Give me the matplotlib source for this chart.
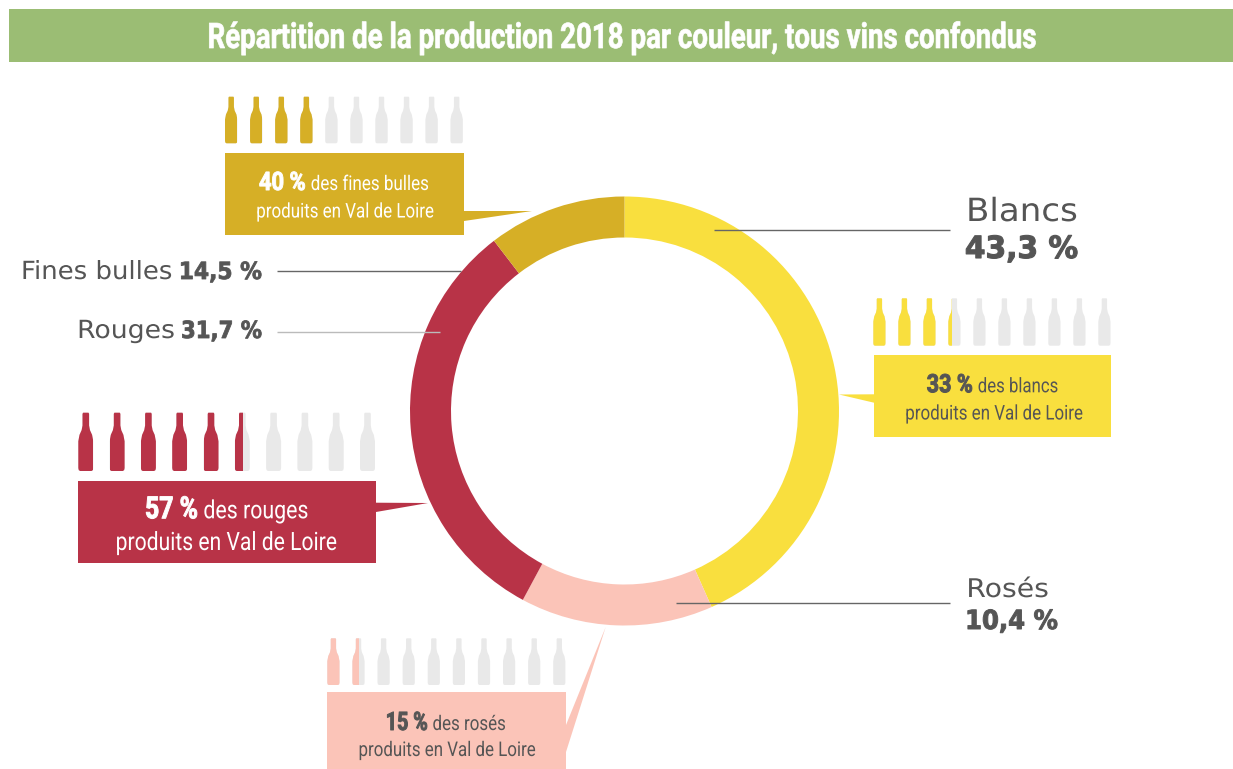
import matplotlib
matplotlib.use("Agg")
import matplotlib.pyplot as plt
from matplotlib.patches import Polygon, Rectangle
from matplotlib.patheffects import AbstractPathEffect
from matplotlib.transforms import Affine2D

# --- data -------------------------------------------------------------
title = "Répartition de la production 2018 par couleur, tous vins confondus"
categories = ["Blancs", "Rosés", "Rouges", "Fines bulles"]
# arc sizes as drawn in the ring (printed labels differ for two of them)
ring_values = [43.3, 14.5, 31.7, 10.4]
printed_values = ["43,3 %", "10,4 %", "31,7 %", "14,5 %"]
val_de_loire_pct = [33, 15, 57, 40]
bottles_filled = [3.3, 1.55, 5.55, 4.0]
callout_words = ["des blancs", "des rosés", "des rouges", "des fines bulles"]
second_line = "produits en Val de Loire"

# --- styles -----------------------------------------------------------
colors = ["#F9DF3E", "#FBC4B8", "#B83347", "#D6AF26"]
text_on = ["#555555", "#555555", "#FFFFFF", "#FFFFFF"]
GREY = "#E9E9E9"
TXT = "#555555"
NARROW = "Roboto"
WIDE = "DejaVu Sans"

W, H = 1233, 769
fig = plt.figure(figsize=(W / 100, H / 100), dpi=100, facecolor="white")
ax = fig.add_axes([0, 0, 1, 1])

CX, CY, R, RIN = 624.5, 411, 214.5, 173.5
ax.pie(ring_values, colors=colors, center=(CX, CY), radius=R, startangle=-90,
       counterclock=True, wedgeprops=dict(width=R - RIN, linewidth=0))
ax.set_xlim(0, W)
ax.set_ylim(H, 0)
ax.set_aspect("equal")
ax.axis("off")

renderer = fig.canvas.get_renderer()


class Stretch(AbstractPathEffect):
    """Stretch the glyph outlines vertically from the baseline, optionally thickening."""

    def __init__(self, sy, stroke=0.0):
        super().__init__()
        self.sy, self.stroke = sy, stroke

    def draw_path(self, renderer, gc, tpath, affine, rgbFace=None):
        t = Affine2D().scale(1, self.sy) + affine
        gc0 = renderer.new_gc()
        gc0.copy_properties(gc)
        if self.stroke:
            gc0.set_linewidth(self.stroke)
            gc0.set_foreground(rgbFace)
        renderer.draw_path(gc0, tpath, t, rgbFace)
        gc0.restore()


def fit(left, y, s, width, fontsize, stroke=0.0, **kw):
    """Real text spanning `width` pixels from `left`, with the height of `fontsize`."""
    a = ax.text(left + width / 2, y, s, ha="center", va="baseline", fontsize=fontsize, **kw)
    sx = width / a.get_window_extent(renderer).width
    a.set_fontsize(fontsize * sx)
    a.set_path_effects([Stretch(1 / sx, stroke)])
    return a


# header
ax.add_patch(Rectangle((9, 9), 1224, 53, color="#9BBD74", lw=0))
fit(207, 48, title, 828, 25.3, stroke=0.5, family=NARROW, weight="bold", color="white")


def bottle(x, y, w, h, color, clip_w=None):
    n0, n1 = 0.28, 0.72
    pts = [(n0, 0.02), (n0 + .04, 0), (n1 - .04, 0), (n1, 0.02), (n1, 0.22), (0.78, 0.30),
           (0.92, 0.38), (1, 0.49), (1, 0.95), (0.97, 0.985), (0.88, 1), (0.12, 1), (0.03, 0.985), (0, 0.95),
           (0, 0.49), (0.08, 0.38), (0.22, 0.30), (n0, 0.22)]
    p = Polygon([(x + a * w, y + b * h) for a, b in pts], closed=True, color=color, lw=0)
    ax.add_patch(p)
    if clip_w is not None:
        p.set_clip_path(Rectangle((x, y - 1), clip_w, h + 2, transform=ax.transData))


def bottles(filled, x0, y0, w, h, step, color):
    for i in range(10):
        x = x0 + i * step
        bottle(x, y0, w, h, GREY)
        frac = min(max(filled - i, 0), 1)
        if frac > 0:
            bottle(x, y0, w, h, color, clip_w=frac * w)


# callout layout: big = (left, width), end = right end of first line
layout = [
    dict(box=(874, 355, 1111, 437), tail=[(874, 394.3), (874, 402.7), (839, 394.5)],
         bot=(873.3, 298.3, 12.2, 47.4, 25.0), fs=14.6, bigfs=18.3, big=(926.7, 46), end=1058.3,
         b1=392.3, b2=419.5, l2=(904.5, 177.5)),
    dict(box=(327, 692, 566, 769), tail=[(566, 725), (566, 752), (605.7, 627)],
         bot=(327.3, 638.3, 12.2, 46.7, 25.1), fs=14.6, bigfs=18.3, big=(385.7, 42), end=505.7,
         b1=730, b2=756, l2=(358, 177)),
    dict(box=(78, 481, 376, 563), tail=[(376, 502.7), (376, 512), (428, 503)],
         bot=(78.3, 412.7, 15.0, 58.3, 31.3), fs=18.2, bigfs=22, big=(145, 52.7), end=308.3,
         b1=518.3, b2=550, l2=(116, 221)),
    dict(box=(225, 153, 464, 235), tail=[(464, 211), (464, 221), (532, 211)],
         bot=(225, 96.7, 12.4, 46.6, 25.05), fs=14.6, bigfs=18.3, big=(259, 46.7), end=429,
         b1=190, b2=217.5, l2=(255.5, 177.5)),
]
for i, L in enumerate(layout):
    x0, y0, x1, y1 = L["box"]
    ax.add_patch(Rectangle((x0, y0), x1 - x0, y1 - y0, color=colors[i], lw=0))
    ax.add_patch(Polygon(L["tail"], closed=True, color=colors[i], lw=0))
    bottles(bottles_filled[i], *L["bot"], colors[i])
    c = text_on[i]
    bl, bw = L["big"]
    fit(bl, L["b1"], f"{val_de_loire_pct[i]} %", bw, L["bigfs"], stroke=0.7, family=NARROW, weight="bold", color=c)
    rest_left = bl + bw + 0.11 * bw
    fit(rest_left, L["b1"], callout_words[i], L["end"] - rest_left, L["fs"], family=NARROW, color=c)
    fit(L["l2"][0], L["b2"], second_line, L["l2"][1], L["fs"], family=NARROW, color=c)

# leader lines
for (xa, xb, y, col) in [(714, 950, 229.5, "#666666"), (676, 950, 603, "#666666"),
                         (277, 461, 271, "#666666"), (277, 440, 332, "#BBBBBB")]:
    ax.plot([xa, xb], [y, y], color=col, lw=1.0, solid_capstyle="butt")

# main labels
fit(966, 221, categories[0], 112, 23, family=WIDE, color=TXT)
fit(965, 258, printed_values[0], 113, 22, stroke=0.8, family=WIDE, weight="bold", color=TXT)
fit(966, 597, categories[1], 83, 18.5, family=WIDE, color=TXT)
fit(965, 629, printed_values[1], 93, 19, stroke=0.7, family=WIDE, weight="bold", color=TXT)
fit(21, 279, categories[3], 152, 18, family=WIDE, color=TXT)
fit(179, 279, printed_values[3], 83, 17, stroke=0.6, family=WIDE, weight="bold", color=TXT)
fit(77, 338, categories[2], 98, 18, family=WIDE, color=TXT)
fit(181, 338, printed_values[2], 81, 17, stroke=0.6, family=WIDE, weight="bold", color=TXT)

fig.savefig("out.png", dpi=100, facecolor="white")
